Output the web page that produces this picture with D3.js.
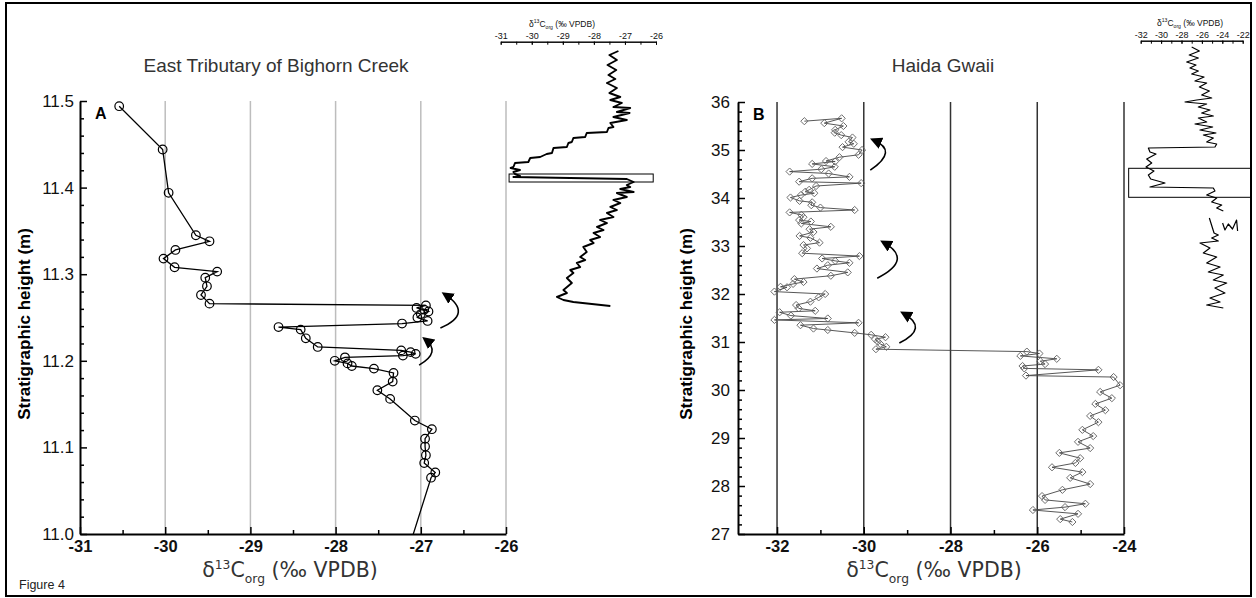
<!DOCTYPE html>
<html>
<head>
<meta charset="utf-8">
<script src="https://cdn.jsdelivr.net/npm/d3@7"></script>
<style>
  body { margin: 0; background: #fff; }
  svg { display: block; font-family: "Liberation Sans", Arial, sans-serif; }
</style>
</head>
<body>
<div id="fig"></div>
<script>
// ---- Panel A: East Tributary of Bighorn Creek (d13C org vs height in m)
const aDelta = [-30.54, -30.03, -29.96, -29.64, -29.48, -29.88, -30.02, -29.89, -29.39, -29.53,
  -29.51, -29.58, -29.48, -26.94, -27.05, -26.96, -26.91, -27.00, -27.04, -26.92,
  -27.22, -28.67, -28.41, -28.35, -28.21, -27.23, -27.12, -27.06, -27.21, -27.89,
  -28.01, -27.86, -27.81, -27.55, -27.32, -27.33, -27.51, -27.36, -27.07, -26.87,
  -26.95, -26.95, -26.94, -26.96, -26.83, -26.88, -27.12];
const aHeight = [11.494, 11.444, 11.394, 11.345, 11.338, 11.328, 11.318, 11.308, 11.303, 11.296,
  11.286, 11.276, 11.266, 11.264, 11.261, 11.259, 11.257, 11.254, 11.250, 11.246,
  11.243, 11.239, 11.236, 11.226, 11.216, 11.212, 11.210, 11.208, 11.206, 11.204,
  11.200, 11.197, 11.194, 11.191, 11.186, 11.176, 11.166, 11.156, 11.131, 11.121,
  11.110, 11.101, 11.091, 11.082, 11.071, 11.065, 10.99];

// ---- Panel B: Haida Gwaii
const bDelta = [-31.37, -30.51, -30.91, -30.47, -30.66, -30.67, -30.52, -30.26, -30.35, -30.23,
  -30.49, -30.04, -30.12, -30.56, -30.87, -30.66, -31.19, -30.67, -30.98, -31.71,
  -30.81, -30.33, -31.19, -31.49, -30.06, -31.10, -31.26, -31.35, -31.14, -31.45,
  -31.69, -31.48, -31.19, -31.21, -31.00, -30.21, -31.71, -31.44, -31.39, -31.49,
  -31.22, -31.44, -30.76, -31.25, -31.16, -31.48, -31.23, -31.02, -31.39, -31.31,
  -31.42, -30.10, -30.96, -30.66, -30.33, -30.83, -31.08, -30.37, -30.76, -31.60,
  -31.39, -31.63, -31.92, -31.77, -32.06, -30.89, -31.04, -31.23, -31.56, -31.50,
  -31.12, -31.94, -31.68, -30.83, -32.06, -30.12, -31.46, -31.16, -30.83, -30.21,
  -29.83, -29.50, -29.74, -29.68, -29.62, -29.48, -29.72,
  -26.24, -25.95, -26.39, -25.55, -25.93, -25.82, -26.34, -26.30, -24.59, -26.26,
  -24.24, -24.09, -24.55, -24.28, -24.66, -24.43, -24.78, -24.59, -24.96, -24.71,
  -25.06, -24.78, -25.49, -25.01, -25.12, -25.66, -24.96, -25.24, -24.78, -25.42,
  -25.89, -25.82, -24.89, -25.36, -26.10, -25.06, -25.47, -25.19];
const bHeight = [35.60, 35.66, 35.56, 35.50, 35.42, 35.36, 35.31, 35.26, 35.17, 35.13,
  35.06, 35.00, 34.90, 34.85, 34.77, 34.76, 34.71, 34.65, 34.60, 34.55,
  34.51, 34.44, 34.41, 34.34, 34.31, 34.25, 34.17, 34.13, 34.10, 34.06,
  34.01, 33.94, 33.91, 33.85, 33.80, 33.75, 33.70, 33.65, 33.60, 33.54,
  33.51, 33.47, 33.40, 33.35, 33.29, 33.21, 33.17, 33.07, 33.02, 32.95,
  32.85, 32.79, 32.74, 32.69, 32.65, 32.60, 32.53, 32.45, 32.38, 32.31,
  32.25, 32.21, 32.15, 32.14, 32.05, 32.00, 31.93, 31.84, 31.77, 31.70,
  31.65, 31.62, 31.55, 31.49, 31.46, 31.40, 31.35, 31.28, 31.25, 31.19,
  31.15, 31.10, 31.06, 31.01, 30.96, 30.90, 30.85,
  30.80, 30.76, 30.71, 30.65, 30.60, 30.54, 30.50, 30.45, 30.42, 30.30,
  30.27, 30.10, 29.96, 29.83, 29.71, 29.58, 29.46, 29.33, 29.17, 29.04,
  28.92, 28.79, 28.69, 28.58, 28.48, 28.39, 28.29, 28.17, 28.04, 27.92,
  27.79, 27.71, 27.63, 27.56, 27.50, 27.42, 27.31, 27.25];

// ---- inset curves (full sections), height in relative units
const insetADelta = [-27.21, -27.50, -27.26, -27.56, -27.28, -27.53, -27.31, -27.58, -27.26, -27.50,
  -27.15, -27.47, -27.10, -27.37, -26.83, -27.26, -26.85, -27.37, -26.94, -27.47,
  -27.37, -27.53, -27.58, -28.23, -28.28, -28.66, -28.71, -28.82, -28.87, -29.30,
  -29.35, -29.52, -29.73, -30.05, -30.11, -30.54, -30.59, -30.68, -30.38, -30.59,
  -30.54, -30.38, -30.59, -26.94, -26.72, -26.94, -26.83, -27.15, -26.72, -27.26,
  -26.94, -27.37, -27.15, -27.47, -27.26, -27.58, -27.37, -27.80, -27.58, -27.90,
  -27.69, -28.01, -27.80, -28.12, -28.01, -28.34, -28.23, -28.44, -28.28, -28.55,
  -28.44, -28.76, -28.66, -28.87, -28.71, -28.98, -28.87, -29.19, -28.98, -28.66, -27.47];
const insetAHeight = [256, 252, 247, 242, 237, 232, 228, 224, 219, 214,
  210, 207, 204, 200, 199, 195, 194, 190, 187, 184,
  180, 179, 175, 174, 170, 169, 165, 164, 160, 159,
  154, 153, 150, 149, 145, 144, 140, 139, 137, 135,
  133, 131, 130, 128, 125, 122, 120, 118, 115, 114,
  110, 107, 104, 100, 97, 94, 90, 87, 84, 80,
  77, 74, 70, 67, 64, 60, 55, 50, 47, 44,
  40, 37, 34, 29, 24, 17, 14, 10, 7, 5, 1];
const insetBDelta = [-27.00, -26.25, -27.24, -26.35, -27.49, -26.58, -27.17, -26.35, -27.00, -25.79,
  -26.68, -25.53, -26.25, -25.27, -26.02, -25.04, -26.51, -27.66, -25.53, -26.35,
  -25.21, -26.02, -24.88, -26.35, -25.53, -26.68, -24.94, -26.19, -24.62, -25.86,
  -24.88, -25.53, -24.55, -24.72, -31.25, -31.09, -30.50, -31.41, -30.92, -31.48,
  -30.70, -31.25, -31.02, -29.62, -31.09, -24.88, -24.72, -25.53, -24.55, -25.04,
  -24.06, -24.55, -23.90, null,
  -25.27, -24.81, -24.39, -25.04, -24.39, -26.19, -25.21, -25.86, -24.55, -25.53,
  -24.22, -25.37, -23.90, -24.88, -23.57, -24.72, -23.74, -25.21, -24.22, -25.53, -23.90, null,
  -23.97, -23.74, -23.41, -23.00, -22.60, -22.50];
const insetBHeight = [263, 259, 255, 252, 248, 245, 242, 239, 236, 233,
  229, 227, 223, 219, 215, 212, 210, 208, 206, 203,
  200, 197, 194, 192, 188, 186, 183, 180, 177, 175,
  172, 168, 166, 163, 162, 158, 156, 151, 147, 143,
  139, 135, 131, 127, 123, 122, 119, 115, 112, 108,
  105, 102, 99, null,
  92, 77, 75, 72, 69, 67, 62, 57, 53, 47,
  43, 38, 35, 30, 27, 22, 17, 12, 8, 5, 2, null,
  87, 80, 86, 81, 90, 79];

// tick labels
const aTicksX = [-31, -30, -29, -28, -27, -26];
const aTicksY = [11.0, 11.1, 11.2, 11.3, 11.4, 11.5];
const bTicksX = [-32, -30, -28, -26, -24];
const bTicksY = [27, 28, 29, 30, 31, 32, 33, 34, 35, 36];
const insetATicks = [-31, -30, -29, -28, -27, -26];
const insetBTicks = [-32, -30, -28, -26, -24, -22];

// curved arrows: start, through, end (data units)
const aArrows = [
  [[-26.77, 11.238], [-26.56, 11.256], [-26.72, 11.277]],
  [[-27.02, 11.195], [-26.87, 11.210], [-26.95, 11.225]]
];
const bArrows = [
  [[-29.85, 34.58], [-29.50, 34.94], [-29.78, 35.21]],
  [[-29.69, 32.33], [-29.23, 32.71], [-29.55, 33.08]],
  [[-29.18, 30.98], [-28.81, 31.29], [-29.09, 31.60]]
];

const W = 1256, H = 598;
const svg = d3.select("#fig").append("svg").attr("width", W).attr("height", H);

svg.append("defs").append("marker")
  .attr("id", "head")
  .attr("viewBox", "0 0 10 10")
  .attr("refX", 7).attr("refY", 5)
  .attr("markerWidth", 12).attr("markerHeight", 12)
  .attr("markerUnits", "userSpaceOnUse")
  .attr("orient", "auto")
  .append("path").attr("d", "M0,0 L10,5 L0,10 z").attr("fill", "#000");

// outer frame
svg.append("rect")
  .attr("x", 6).attr("y", 3).attr("width", 1245).attr("height", 593)
  .attr("fill", "none").attr("stroke", "#000").attr("stroke-width", 2);

function deltaText(sel, size) {
  sel.append("tspan").text("δ");
  sel.append("tspan").attr("font-size", size * 0.6).attr("dy", -size * 0.38).text("13");
  sel.append("tspan").attr("dy", size * 0.38).text("C");
  sel.append("tspan").attr("font-size", size * 0.6).attr("dy", size * 0.28).text("org");
  sel.append("tspan").attr("dy", -size * 0.28).text(" (‰ VPDB)");
}

function drawPanel(c) {
  const x = d3.scaleLinear().domain(c.xDomain).range(c.xRange);
  const y = d3.scaleLinear().domain(c.yDomain).range(c.yRange);
  const g = svg.append("g");

  // vertical grid lines
  g.selectAll(".grid").data(c.grid).join("line")
    .attr("x1", d => x(d)).attr("x2", d => x(d))
    .attr("y1", c.yRange[1]).attr("y2", c.yRange[0])
    .attr("stroke", c.gridColor).attr("stroke-width", 1.5);

  // minor ticks
  g.append("g").attr("transform", `translate(0,${c.yRange[0]})`)
    .call(d3.axisBottom(x).tickValues(c.minorX).tickSize(-4).tickSizeOuter(0).tickFormat(""))
    .call(s => s.select(".domain").remove())
    .selectAll("line").attr("stroke-width", 1.5);
  g.append("g").attr("transform", `translate(${c.xRange[0]},0)`)
    .call(d3.axisLeft(y).tickValues(c.minorY).tickSize(-4).tickSizeOuter(0).tickFormat(""))
    .call(s => s.select(".domain").remove())
    .selectAll("line").attr("stroke-width", 1.5);

  // major axes
  const xa = g.append("g").attr("transform", `translate(0,${c.yRange[0]})`)
    .call(d3.axisBottom(x).tickValues(c.ticksX).tickSize(-7).tickSizeOuter(0)
      .tickPadding(6).tickFormat(d => String(d)));
  xa.selectAll("text").attr("font-size", 16.5).attr("font-weight", "bold")
    .attr("fill", "#111").attr("font-family", "Liberation Sans, Arial, sans-serif");
  const ya = g.append("g").attr("transform", `translate(${c.xRange[0]},0)`)
    .call(d3.axisLeft(y).tickValues(c.ticksY).tickSize(-7).tickSizeOuter(0)
      .tickPadding(c.yPad).tickFormat(c.yFmt));
  ya.selectAll("text").attr("font-size", 17).attr("fill", "#111")
    .attr("font-family", "Liberation Sans, Arial, sans-serif");
  [xa, ya].forEach(a => {
    a.select(".domain").attr("stroke-width", 2);
    a.selectAll(".tick line").attr("stroke-width", 1.5);
  });

  // data
  const clipId = "clip" + c.key;
  svg.select("defs").append("clipPath").attr("id", clipId)
    .append("rect").attr("x", c.xRange[0]).attr("y", c.yRange[1] - 10)
    .attr("width", c.xRange[1] - c.xRange[0] + 10).attr("height", c.yRange[0] - c.yRange[1] + 10);
  const dg = g.append("g").attr("clip-path", `url(#${clipId})`);
  const idx = d3.range(c.delta.length);
  dg.append("path")
    .attr("d", d3.line().x(i => x(c.delta[i])).y(i => y(c.height[i]))(idx))
    .attr("fill", "none").attr("stroke", c.lineColor).attr("stroke-width", c.lineWidth);
  if (c.marker === "circle") {
    dg.selectAll("circle").data(idx).join("circle")
      .attr("cx", i => x(c.delta[i])).attr("cy", i => y(c.height[i]))
      .attr("r", 4.3).attr("fill", "none").attr("stroke", "#000").attr("stroke-width", 1.2);
  } else {
    const sym = d3.symbol(d3.symbolSquare, 26);
    dg.selectAll(".pt").data(idx).join("path")
      .attr("transform", i => `translate(${x(c.delta[i])},${y(c.height[i])}) rotate(45)`)
      .attr("d", sym).attr("fill", "none").attr("stroke", "#666").attr("stroke-width", 0.9);
  }

  // arrows
  c.arrows.forEach(a => {
    const s = [x(a[0][0]), y(a[0][1])], m = [x(a[1][0]), y(a[1][1])], e = [x(a[2][0]), y(a[2][1])];
    const cx = 2 * m[0] - (s[0] + e[0]) / 2, cy = 2 * m[1] - (s[1] + e[1]) / 2;
    g.append("path").attr("d", `M${s[0]},${s[1]} Q${cx},${cy} ${e[0]},${e[1]}`)
      .attr("fill", "none").attr("stroke", "#000").attr("stroke-width", 1.6)
      .attr("marker-end", "url(#head)");
  });

  // labels
  g.append("text").attr("x", c.xRange[0] + 15).attr("y", c.yRange[1] + 18)
    .attr("font-size", 16).attr("font-weight", "bold").text(c.letter);
  g.append("text").attr("x", c.titleX).attr("y", 72).attr("text-anchor", "middle")
    .attr("font-size", 19).attr("fill", "#333").text(c.title);
  g.append("text").attr("transform", `translate(${c.yTitleX},324) rotate(-90)`)
    .attr("text-anchor", "middle").attr("font-size", 17).attr("font-weight", "bold")
    .text("Stratigraphic height (m)");
  const t = g.append("text").attr("x", c.xTitleX).attr("y", 577).attr("text-anchor", "middle")
    .attr("font-size", 20.5).attr("fill", "#333")
    .attr("font-family", "DejaVu Sans, sans-serif");
  deltaText(t, 20.5);
}

function drawInset(c) {
  const x = d3.scaleLinear().domain(c.xDomain).range(c.xRange);
  const y = d3.scaleLinear().domain(c.yDomain).range(c.yRange);
  const g = svg.append("g");
  const ax = g.append("g").attr("transform", `translate(0,${c.axisY})`)
    .call(d3.axisTop(x).tickValues(c.minor).tickSize(-3).tickSizeOuter(0).tickFormat(""));
  ax.select(".domain").attr("stroke-width", 1);
  const ax2 = g.append("g").attr("transform", `translate(0,${c.axisY})`)
    .call(d3.axisTop(x).tickValues(c.ticks).tickSize(-3).tickSizeOuter(0).tickPadding(3)
      .tickFormat(d => String(d)));
  ax2.selectAll("text").attr("font-size", 9).attr("fill", "#111")
    .attr("font-family", "Liberation Sans, Arial, sans-serif");
  const t = g.append("text").attr("x", c.titleX).attr("y", c.axisY - 15)
    .attr("text-anchor", "middle").attr("font-size", 8.5).attr("fill", "#111");
  deltaText(t, 8.5);

  const idx = d3.range(c.delta.length);
  g.append("path")
    .attr("d", d3.line().defined(i => c.delta[i] != null)
      .x(i => x(c.delta[i])).y(i => y(c.height[i]))(idx))
    .attr("fill", "none").attr("stroke", "#000").attr("stroke-width", c.lineWidth)
    .attr("stroke-linejoin", "round");
  g.append("rect")
    .attr("x", x(c.box[0])).attr("y", y(c.box[3]))
    .attr("width", x(c.box[1]) - x(c.box[0])).attr("height", y(c.box[2]) - y(c.box[3]))
    .attr("fill", "none").attr("stroke", "#000").attr("stroke-width", 1);
}

drawPanel({
  key: "A", xDomain: [-31, -26], xRange: [80, 506], yDomain: [11.0, 11.5], yRange: [534, 101],
  ticksX: aTicksX, ticksY: aTicksY, minorX: [-30.5, -29.5, -28.5, -27.5, -26.5],
  minorY: d3.range(11.02, 11.5, 0.02).filter(v => Math.abs(v * 10 - Math.round(v * 10)) > 0.01),
  yFmt: d3.format(".1f"), yPad: 6,
  grid: [-30, -29, -28, -27, -26], gridColor: "#bdbdbd",
  delta: aDelta, height: aHeight, marker: "circle", lineColor: "#000", lineWidth: 1.3,
  arrows: aArrows, letter: "A", title: "East Tributary of Bighorn Creek", titleX: 276,
  yTitleX: 30, xTitleX: 290
});

drawPanel({
  key: "B", xDomain: [-32.9, -24], xRange: [738, 1124], yDomain: [27, 36], yRange: [534, 102],
  ticksX: bTicksX, ticksY: bTicksY, minorX: [-31, -29, -27, -25],
  minorY: d3.range(27.2, 36, 0.2).filter(v => Math.abs(v - Math.round(v)) > 0.01),
  yFmt: d3.format("d"), yPad: 8,
  grid: [-32, -30, -28, -26, -24], gridColor: "#333",
  delta: bDelta, height: bHeight, marker: "diamond", lineColor: "#444", lineWidth: 0.9,
  arrows: bArrows, letter: "B", title: "Haida Gwaii", titleX: 943,
  yTitleX: 692, xTitleX: 934
});

drawInset({
  xDomain: [-31, -26], xRange: [500.7, 656], yDomain: [0, 260], yRange: [307, 47],
  axisY: 41.7, ticks: insetATicks, minor: d3.range(-31, -25.9, 0.5), titleX: 562,
  delta: insetADelta, height: insetAHeight, lineWidth: 1.9,
  box: [-30.73, -26.09, 125, 133]
});

drawInset({
  xDomain: [-32, -22], xRange: [1140.7, 1242.7], yDomain: [0, 265], yRange: [310, 45],
  axisY: 40.7, ticks: insetBTicks, minor: d3.range(-32, -21.9, 1), titleX: 1190,
  delta: insetBDelta, height: insetBHeight, lineWidth: 1.2,
  box: [-33.18, -21.22, 112.7, 141.7]
});

svg.append("text").attr("x", 19).attr("y", 589).attr("font-size", 12.5).attr("fill", "#222")
  .text("Figure 4");
</script>
</body>
</html>
